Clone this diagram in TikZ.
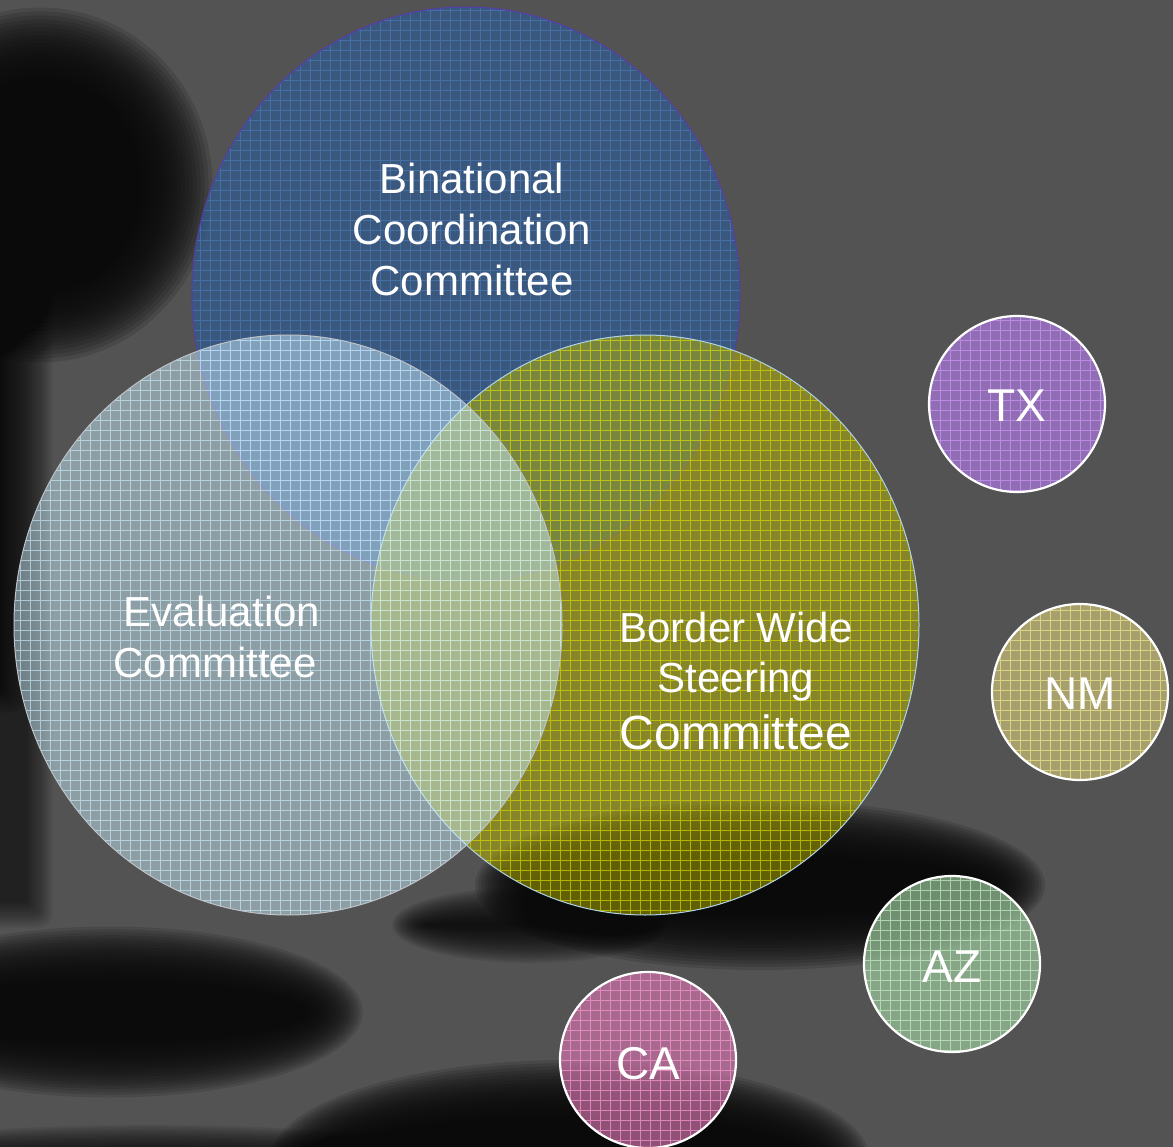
\documentclass[tikz,border=0pt]{standalone}
\usepackage{fontspec}
\setmainfont{Liberation Sans}
\definecolor{bg}{RGB}{83,83,83}
\definecolor{shadowc}{RGB}{10,10,10}
\definecolor{bluefill}{RGB}{50,90,140}
\definecolor{bluegrid}{RGB}{80,130,200}
\definecolor{blueline}{RGB}{85,60,175}
\definecolor{yelfill}{RGB}{185,183,0}
\definecolor{yelgrid}{RGB}{215,215,0}
\definecolor{yelline}{RGB}{175,210,230}
\definecolor{evfill}{RGB}{205,240,255}
\definecolor{evgrid}{RGB}{205,235,250}
\definecolor{evline}{RGB}{190,195,200}
\definecolor{txfill}{RGB}{170,120,220}
\definecolor{txgrid}{RGB}{200,150,240}
\definecolor{nmfill}{RGB}{200,190,120}
\definecolor{nmgrid}{RGB}{235,230,140}
\definecolor{azfill}{RGB}{160,205,160}
\definecolor{azgrid}{RGB}{195,235,195}
\definecolor{cafill}{RGB}{210,115,170}
\definecolor{cagrid}{RGB}{245,150,205}
\newcommand\vennpart[9]{%
  \fill[#5, fill opacity=#6] (#1,#2) ellipse [x radius=#3, y radius=#4];
  \begin{scope}
    \clip (#1,#2) ellipse [x radius=#3, y radius=#4];
    \draw[#7, line width=0.9pt, step=10pt] ({#1-#3},{#2-#4}) grid ({#1+#3},{#2+#4});
  \end{scope}
  \draw[#8, line width=#9] (#1,#2) ellipse [x radius=#3, y radius=#4];
}
% soft elliptic shadow: cx cy rx ry blur layer-opacity
\newcommand\softblob[6]{%
  \foreach \k in {0,...,19}{%
    \fill[shadowc, fill opacity=#6] (#1,#2) ellipse [x radius={#3+#5/2-\k*#5/19}, y radius={#4+#5/2-\k*#5/19}];
  }%
}
% soft rectangular shadow: x0 y0 x1 y1 blur layer-opacity
\newcommand\softrect[6]{%
  \foreach \k in {0,...,19}{%
    \fill[shadowc, fill opacity=#6, rounded corners={#5/2-\k*#5/40+1}] ({#1-#5/2+\k*#5/19},{#2-#5/2+\k*#5/19}) rectangle ({#3+#5/2-\k*#5/19},{#4+#5/2-\k*#5/19});
  }%
}
\tikzset{
  lbl/.style={text=white, anchor=base, inner sep=0pt, font=\fontsize{42}{50}\selectfont},
  biglbl/.style={text=white, anchor=base, inner sep=0pt, font=\fontsize{48}{56}\selectfont},
  statelbl/.style={text=white, anchor=base, inner sep=0pt, font=\fontsize{46}{54}\selectfont}
}
\begin{document}
\begin{tikzpicture}[x=1pt,y=-1pt]
\fill[bg] (0,0) rectangle (1173,1147);
\useasboundingbox (0,0) rectangle (1173,1147);
% background shadows
\softblob{40}{185}{135}{140}{75}{0.15}
\softrect{-30}{300}{40}{915}{26}{0.045}
\softrect{-30}{260}{12}{700}{26}{0.05}
\softblob{110}{1012}{225}{58}{55}{0.13}
\softblob{570}{1160}{270}{70}{60}{0.15}
\softblob{150}{1165}{320}{22}{36}{0.09}
\softblob{760}{885}{255}{55}{60}{0.15}
\softblob{530}{925}{120}{20}{36}{0.09}
% Venn circles
\vennpart{466}{294}{274}{287}{bluefill}{0.75}{bluegrid, opacity=0.55}{blueline}{1pt}
\vennpart{645}{625}{274}{290}{yelfill}{0.5}{yelgrid, opacity=0.7}{yelline}{1pt}
\vennpart{288}{625}{274}{290}{evfill}{0.48}{evgrid, opacity=0.65}{evline}{1pt}
% state circles
\vennpart{1017}{404}{88}{88}{txfill}{0.72}{txgrid, opacity=0.75}{white}{2.2pt}
\vennpart{1080}{692}{88}{88}{nmfill}{0.72}{nmgrid, opacity=0.75}{white}{2.2pt}
\vennpart{952}{964}{88}{88}{azfill}{0.68}{azgrid, opacity=0.75}{white}{2.2pt}
\vennpart{648}{1060}{88}{88}{cafill}{0.68}{cagrid, opacity=0.75}{white}{2.2pt}
% labels
\node[lbl] (bcc1) at (472,194) {Binational};
\node[lbl] (bcc2) at (472,245) {Coordination};
\node[lbl] (bcc3) at (472,296) {Committee};
\node[lbl] (ev1) at (222,626) {Evaluation};
\node[lbl] (ev2) at (215,677) {Committee};
\node[lbl] (bw1) at (736,642) {Border Wide};
\node[lbl] (bw2) at (736,692) {Steering};
\node[biglbl] (bw3) at (736,749) {Committee};
\node[statelbl] (tx) at (1017,422) {TX};
\node[statelbl] (nm) at (1080,709) {NM};
\node[statelbl] (az) at (952,982) {AZ};
\node[statelbl] (ca) at (648,1079) {CA};
\end{tikzpicture}
\end{document}
